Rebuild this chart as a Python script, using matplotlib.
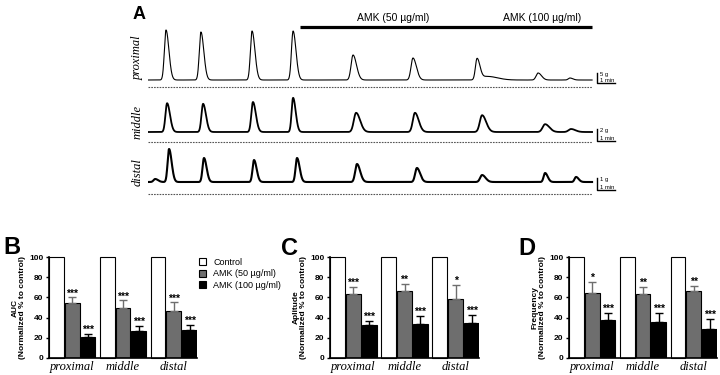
import matplotlib
import matplotlib.pyplot as plt
import numpy as np
from matplotlib.patches import Patch

matplotlib.use('Agg')
plt.rcParams['font.family'] = ['Liberation Sans', 'DejaVu Sans']

W, H = 720, 375
GRAY = '#6e6e6e'

# ---- panel A: contraction traces (peak time in min, peak force in g) ----
prox_t = [1.0, 2.94, 5.78, 8.06, 11.39, 14.72, 18.28, 18.85, 21.67, 23.44]
prox_amp = [25, 24, 24.5, 24.5, 12.5, 11, 10.5, 1.8, 3.5, 1]
prox_w = [1, 1, 1, 1, 1.2, 1.2, 1, 3.5, 1.2, 1]

mid_t = [1.06, 3.06, 5.83, 8.06, 11.56, 14.83, 18.56, 22.06, 23.5]
mid_amp = [4.8, 4.7, 5.0, 5.7, 3.2, 3.2, 2.8, 1.3, 0.5]
mid_w = [1, 1, 1, 0.9, 1.4, 1.3, 1.4, 1.5, 1.5]

dist_t = [0.4, 1.17, 3.11, 5.89, 8.28, 11.61, 14.94, 18.56, 22.06, 23.78]
dist_amp = [0.25, 2.75, 2.0, 1.83, 2.0, 1.5, 1.17, 0.58, 0.75, 0.42]
dist_w = [1, 0.9, 0.9, 0.9, 0.9, 1.1, 1.1, 1.2, 0.9, 0.9]

trace_end = 24.67
drug_start = 8.44

# ---- panels B-D ----
regions = ['proximal', 'middle', 'distal']
control = [100, 100, 100]

auc_50 = [54, 50, 47]
auc_50_err = [6, 7, 8]
auc_50_sig = ['***', '***', '***']
auc_100 = [21, 27, 28]
auc_100_err = [2.5, 5, 5]
auc_100_sig = ['***', '***', '***']

amp_50 = [63, 66, 58.5]
amp_50_err = [7, 7, 13.5]
amp_50_sig = ['***', '**', '*']
amp_100 = [32.5, 34, 35]
amp_100_err = [4.5, 8, 8]
amp_100_sig = ['***', '***', '***']

freq_50 = [64, 63, 66]
freq_50_err = [11.5, 7, 5]
freq_50_sig = ['*', '**', '**']
freq_100 = [37.5, 36, 28.5]
freq_100_err = [7.5, 9, 10]
freq_100_sig = ['***', '***', '***']


def fx(px):
    return px / W


def fy(py):
    return 1 - py / H


def box(left, top, right, bottom):
    return [fx(left), fy(bottom), (right - left) / W, (bottom - top) / H]


def trace(t, times, amps, widths, rise, decay):
    y = np.zeros_like(t)
    for t0, a, w in zip(times, amps, widths):
        dt = t - t0
        s = np.where(dt < 0, rise * w, decay * w)
        y += a * np.exp(-0.5 * (dt / s) ** 2)
    return y


fig = plt.figure(figsize=(7.2, 3.75), dpi=100)

t = np.linspace(0, trace_end, 3000)
rows = [
    # times, amps, widths, axes px (top, bottom), ylim, dashed y, scale g, scale y0, lw, label, label y px
    (prox_t, prox_amp, prox_w, (5, 90), (-5, 37.5), -3.5, 5, -1.5, 0.8, 'proximal', 58),
    (mid_t, mid_amp, mid_w, (92, 146), (-14 / 6, 40 / 6), -10 / 6, 2, -1.5, 1.3, 'middle', 122),
    (dist_t, dist_amp, dist_w, (146, 198), (-16 / 12, 3.0), -1.0, 1, -8 / 12, 1.5, 'distal', 172),
]
trace_axes = []
for times, amps, widths, (top, bot), ylim, dash_y, sc, y0, lw, name, ly in rows:
    ax = fig.add_axes(box(148, top, 640, bot))
    ax.plot(t, trace(t, times, amps, widths, 0.09, 0.16), color='black', lw=lw)
    ax.plot([0, trace_end], [dash_y, dash_y], color='#555555', lw=0.8, dashes=(1.5, 1))
    ax.plot([24.94, 24.94, 25.94], [y0 + sc, y0, y0], color='black', lw=1)
    ax.text(25.12, y0 + sc * 1.12, f'{sc} g', fontsize=4.2, va='top')
    ax.text(25.12, y0 + sc * 0.02, '1 min', fontsize=4.2, va='bottom')
    ax.set_xlim(0, 492 / 18)
    ax.set_ylim(*ylim)
    ax.axis('off')
    fig.text(fx(138), fy(ly), name, rotation=90, ha='center', va='center',
             family='Liberation Serif', style='italic', fontsize=9)
    trace_axes.append(ax)

ax_p = trace_axes[0]
ax_p.plot([drug_start, trace_end], [26.6, 26.6], color='black', lw=2.3, solid_capstyle='butt')
ax_p.text(13.6, 31, 'AMK (50 µg/ml)', ha='center', va='center', fontsize=7.5)
ax_p.text(21.9, 31, 'AMK (100 µg/ml)', ha='center', va='center', fontsize=7.5)
fig.text(fx(133), fy(19), 'A', fontsize=13, fontweight='bold', va='baseline')


def bar_panel(ax, ylabel, v50, e50, s50, v100, e100, s100):
    x = np.arange(len(regions))
    step, width = 0.31, 0.29
    ax.bar(x - step, control, width, color='white', edgecolor='black', lw=0.8, clip_on=False)
    ax.bar(x, v50, width, color=GRAY, edgecolor='black', lw=0.8)
    ax.bar(x + step, v100, width, color='black', edgecolor='black', lw=0.8)
    zero = np.zeros(len(regions))
    ax.errorbar(x, v50, yerr=[zero, e50], fmt='none', ecolor=GRAY, capsize=3,
                elinewidth=1, capthick=1)
    ax.errorbar(x + step, v100, yerr=[zero, e100], fmt='none', ecolor='black', capsize=3,
                elinewidth=1, capthick=1)
    for xi, v, e, s in zip(x, v50, e50, s50):
        ax.text(xi, v + e - 1, s, ha='center', va='bottom', fontsize=7.5, fontweight='bold')
    for xi, v, e, s in zip(x + step, v100, e100, s100):
        ax.text(xi, v + e - 1, s, ha='center', va='bottom', fontsize=7.5, fontweight='bold')
    ax.set_xlim(-step - width / 2, 2 + step + width / 2)
    ax.set_ylim(0, 100)
    ax.set_yticks([0, 20, 40, 60, 80, 100])
    ax.set_xticks(x)
    ax.set_xticklabels(regions, family='Liberation Serif', style='italic', fontsize=9)
    ax.tick_params(axis='x', length=0, pad=2)
    ax.tick_params(axis='y', length=2.5, width=1, labelsize=6, pad=1.5)
    for lab in ax.get_yticklabels():
        lab.set_fontweight('bold')
    ax.spines[['top', 'right']].set_visible(False)
    ax.spines[['left', 'bottom']].set_linewidth(1.2)
    ax.set_ylabel(ylabel, fontsize=6, fontweight='bold', labelpad=2, linespacing=1.1)


ax_b = fig.add_axes(box(49, 257, 197, 358))
bar_panel(ax_b, 'AUC\n(Normalized % to control)',
          auc_50, auc_50_err, auc_50_sig, auc_100, auc_100_err, auc_100_sig)
ax_c = fig.add_axes(box(330, 257, 479, 358))
bar_panel(ax_c, 'Aplitude\n(Normalized % to control)',
          amp_50, amp_50_err, amp_50_sig, amp_100, amp_100_err, amp_100_sig)
ax_d = fig.add_axes(box(569, 257, 717, 358))
bar_panel(ax_d, 'Frequency\n(Normalized % to control)',
          freq_50, freq_50_err, freq_50_sig, freq_100, freq_100_err, freq_100_sig)

handles = [Patch(facecolor='white', edgecolor='black', lw=0.8),
           Patch(facecolor=GRAY, edgecolor='black', lw=0.8),
           Patch(facecolor='black', edgecolor='black', lw=0.8)]
ax_b.legend(handles, ['Control', 'AMK (50 µg/ml)', 'AMK (100 µg/ml)'],
            loc='upper left', bbox_to_anchor=(fx(199), fy(258)), bbox_transform=fig.transFigure,
            frameon=False, fontsize=6.5, handlelength=0.8, handleheight=0.8,
            handletextpad=0.8, labelspacing=0.25, borderpad=0, borderaxespad=0)

fig.text(fx(3), fy(254), 'B', fontsize=17, fontweight='bold', va='baseline')
fig.text(fx(281), fy(255), 'C', fontsize=17, fontweight='bold', va='baseline')
fig.text(fx(518), fy(255), 'D', fontsize=17, fontweight='bold', va='baseline')

fig.savefig('out.png', dpi=100)
